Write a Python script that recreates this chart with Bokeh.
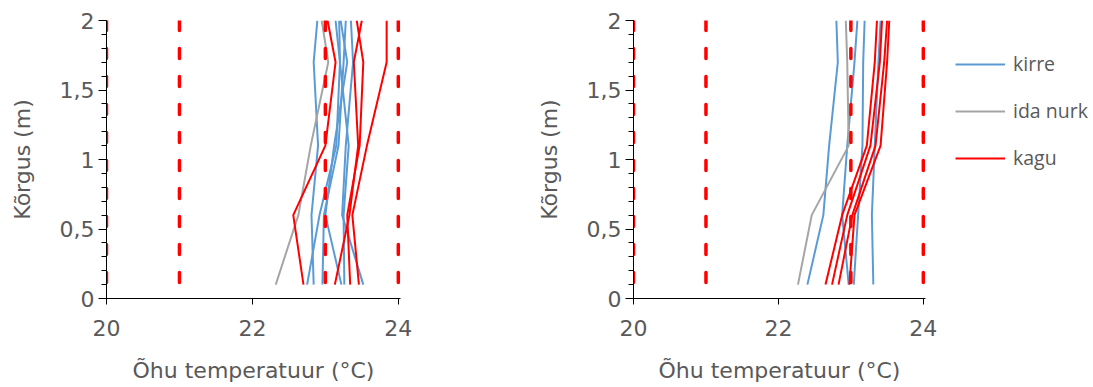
from bokeh.plotting import figure
from bokeh.layouts import row
from bokeh.models import FixedTicker, CustomJSTickFormatter, Legend, LegendItem
from bokeh.embed import file_html
from bokeh.resources import INLINE

# Measurement heights (m)
heights = [0.1, 0.6, 1.1, 1.7, 2.0]

# Left panel: air temperature profiles (°C) per position
left_kirre = [
    [22.84, 22.81, 22.90, 22.84, 22.89],
    [22.75, 22.92, 23.15, 23.20, 23.14],
    [22.96, 22.98, 23.18, 23.25, 23.28],
    [23.22, 23.00, 23.12, 23.30, 23.21],
    [23.26, 23.25, 23.32, 23.20, 23.19],
    [23.52, 23.23, 23.28, 23.38, 23.35],
]
left_ida_nurk = [
    [22.32, 22.63, 22.80, 23.04, 22.95],
]
left_kagu = [
    [22.70, 22.56, 23.00, 23.14, 23.03],
    [23.13, 23.33, 23.45, 23.39, 23.50],
    [23.34, 23.30, 23.47, 23.52, 23.43],
    [23.46, 23.37, 23.57, 23.84, 23.84],
]

# Right panel
right_kirre = [
    [22.40, 22.62, 22.70, 22.82, 22.80],
    [22.97, 22.88, 22.95, 23.05, 23.09],
    [23.04, 23.10, 23.16, 23.17, 23.19],
    [23.31, 23.29, 23.33, 23.38, 23.41],
]
right_ida_nurk = [
    [22.27, 22.46, 22.97, 22.95, 22.93],
]
right_kagu = [
    [22.65, 22.88, 23.22, 23.33, 23.36],
    [22.74, 22.95, 23.27, 23.40, 23.43],
    [22.83, 23.02, 23.34, 23.46, 23.50],
    [22.98, 23.05, 23.41, 23.50, 23.53],
]

# Comfort limits drawn as dashed verticals (°C)
limits = [20, 21, 23, 24]

x_ticks = [20, 22, 24]
y_ticks = [0, 0.5, 1, 1.5, 2]
y_minor_ticks = [0.0, 0.1, 0.2, 0.3, 0.4, 0.5, 0.6, 0.7, 0.8, 0.9, 1.0,
                 1.1, 1.2, 1.3, 1.4, 1.5, 1.6, 1.7, 1.8, 1.9, 2.0]

series_names = ["kirre", "ida nurk", "kagu"]
series_colors = ["#5B9BD5", "#A5A5A5", "#FF0000"]

TEXT = "#595959"
FONT = "DejaVu Sans"
FRAME_H = 278
TOP = 20
BOTTOM = 88
X_PAD = 0.03  # a little room so the 24 °C limit line is not clipped


def make_panel(frame_w, border_left, border_right, groups):
    p = figure(frame_width=frame_w, frame_height=FRAME_H,
               x_range=(20, 24 + X_PAD), y_range=(0, 2),
               output_backend="svg", toolbar_location=None,
               min_border_left=border_left, min_border_right=border_right,
               min_border_top=TOP, min_border_bottom=BOTTOM)
    p.outline_line_color = None
    p.grid.visible = False
    p.background_fill_color = "white"
    p.border_fill_color = "white"

    first = []
    for profiles, color in zip(groups, series_colors):
        rs = []
        for prof in profiles:
            rs.append(p.line(prof, heights, line_color=color, line_width=2))
        first.append(rs[0])

    for v in limits:
        p.segment(x0=[v], y0=[2], x1=[v], y1=[0], line_color="#FF0000",
                  line_width=3.5, line_dash="10 18", line_cap="round")

    p.xaxis.ticker = FixedTicker(ticks=x_ticks)
    p.yaxis.ticker = FixedTicker(ticks=y_ticks, minor_ticks=y_minor_ticks)
    p.yaxis.formatter = CustomJSTickFormatter(
        code="return tick.toString().replace('.', ',')")

    for ax in (p.xaxis[0], p.yaxis[0]):
        ax.axis_line_color = "black"
        ax.axis_line_width = 1
        ax.major_tick_line_color = "black"
        ax.minor_tick_line_color = "black"
        ax.major_tick_in = 0
        ax.minor_tick_in = 0
        ax.major_label_text_font = FONT
        ax.major_label_text_font_size = "22px"
        ax.major_label_text_color = TEXT
        ax.axis_label_text_font = FONT
        ax.axis_label_text_font_size = "22px"
        ax.axis_label_text_font_style = "normal"
        ax.axis_label_text_color = TEXT

    p.xaxis.axis_label = "Õhu temperatuur (°C)"
    p.xaxis.major_tick_out = 6
    p.xaxis.minor_tick_out = 0
    p.xaxis.major_label_standoff = 15
    p.xaxis.axis_label_standoff = 19

    p.yaxis.axis_label = "Kõrgus (m)"
    p.yaxis.major_tick_out = 8
    p.yaxis.minor_tick_out = 5
    p.yaxis.major_label_standoff = 4
    p.yaxis.axis_label_standoff = 22
    return p, first


left, _ = make_panel(294, 106, 34, [left_kirre, left_ida_nurk, left_kagu])
right, first = make_panel(292, 199, 168,
                          [right_kirre, right_ida_nurk, right_kagu])

legend = Legend(items=[LegendItem(label=n, renderers=[r])
                       for n, r in zip(series_names, first)],
                location="top_left", orientation="vertical")
legend.border_line_color = None
legend.background_fill_alpha = 0
legend.margin = 30
legend.padding = 12
legend.glyph_width = 50
legend.glyph_height = 22
legend.label_standoff = 8
legend.spacing = 20
legend.label_text_font = "Open Sans"
legend.label_text_font_size = "19.5px"
legend.label_text_color = TEXT
right.add_layout(legend, "right")

layout = row(left, right)
open("out.html", "w").write(file_html(layout, INLINE))
